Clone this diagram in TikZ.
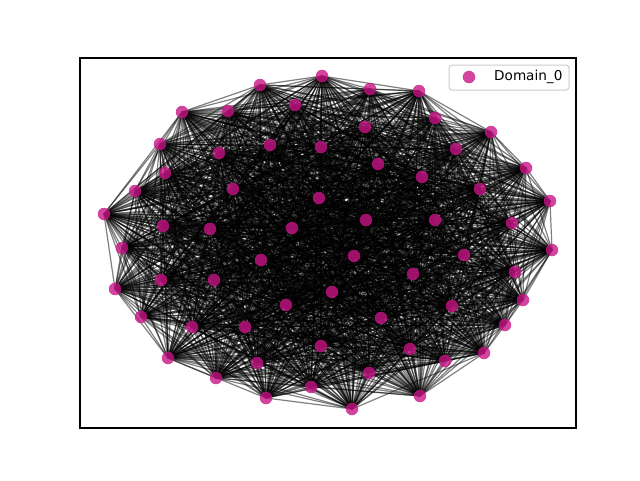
\documentclass[tikz,border=0pt]{standalone}
\usepackage{fontspec}
\setmainfont{DejaVu Sans}
\definecolor{domaincol}{HTML}{C71585}
\pgfdeclarelayer{edges}
\pgfsetlayers{edges,main}
\tikzset{
  vertex/.style={circle,fill=domaincol,fill opacity=0.8,inner sep=0pt,minimum size=12.5pt},
  link/.style={black,opacity=0.5,line width=1.2pt},
}
\begin{document}
\begin{tikzpicture}[x=1pt,y=-1pt]
\useasboundingbox (0,0) rectangle (640,480);
\foreach \k/\x/\y in {1/322/76,2/370/89,3/419/91,4/435/118,5/491/132,6/456/149,7/526/168,8/480/189,
  9/550/201,10/512/223,11/552/250,12/464/255,13/515/272,14/523/300,15/452/306,16/505/325,
  17/484/353,18/445/361,19/410/349,20/420/396,21/369/373,22/352/409,23/311/387,24/321/346,
  25/266/398,26/257/363,27/216/378,28/245/327,29/168/358,30/192/327,31/141/317,32/115/289,
  33/161/280,34/214/280,35/122/248,36/104/214,37/163/226,38/135/191,39/165/173,40/160/144,
  41/182/112,42/219/153,43/228/111,44/260/85,45/295/105,46/270/145,47/233/189,48/321/147,
  49/365/127,50/378/164,51/422/177,52/319/198,53/366/220,54/435/220,55/292/228,56/210/229,
  57/261/260,58/354/256,59/413/274,60/286/305,61/332/292,62/381/318}
  \node[vertex] (n\k) at (\x,\y) {};
\begin{pgfonlayer}{edges}
\foreach \i in {1,...,61}{
  \pgfmathtruncatemacro\first{\i+1}
  \foreach \j in {\first,...,62}{
    \pgfmathtruncatemacro\h{mod(mod(\i*\j,53)*7+\i*31+\j*17,101)}
    \ifnum\h<92 \draw[link] (n\i.center) -- (n\j.center);\fi
  }
}
\end{pgfonlayer}
\draw[line width=1.1pt] (80,58) rectangle (576,428);
\node[draw=black!20,fill=white,fill opacity=0.8,text opacity=1,rounded corners=3pt,
  minimum width=120pt,minimum height=25pt,line width=1pt] (legend) at (509,77.5) {};
\node[vertex] (legmark) at (469,77) {};
\node[anchor=west,inner sep=0pt,font=\fontsize{13.6}{16}\selectfont] (legtext) at (494,77) {Domain\_0};
\end{tikzpicture}
\end{document}
